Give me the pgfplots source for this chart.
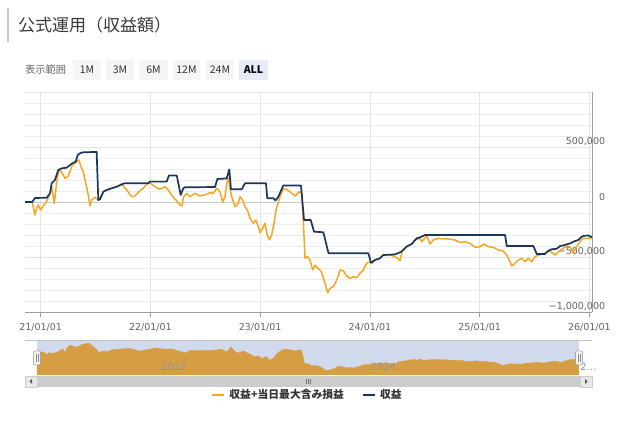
\documentclass[border=0pt]{standalone}
\usepackage{fontspec}
\setmainfont{Noto Sans CJK JP}
\newfontfamily\numfont{DejaVu Sans}
\usepackage{pgfplots}
\pgfplotsset{compat=1.18}
\usepackage{pgfplotstable}

\definecolor{orng}{RGB}{245,166,35}
\definecolor{navy}{RGB}{27,54,93}
\definecolor{navfill}{RGB}{214,158,66}
\definecolor{maskc}{RGB}{209,217,236}
\definecolor{allbtn}{RGB}{230,235,245}

\pgfplotstableread{
year val
2020.857 0
2020.923 0
2020.948 36000
2021.055 39000
2021.085 79000
2021.100 170000
2021.130 200000
2021.160 291000
2021.191 306000
2021.237 312000
2021.267 336000
2021.297 357000
2021.319 366000
2021.337 427000
2021.358 443000
2021.388 452000
2021.510 455000
2021.525 18000
2021.540 25000
2021.571 94000
2021.602 109000
2021.647 125000
2021.693 139000
2021.738 161000
2021.768 170000
2021.981 170000
2021.996 185000
2022.148 185000
2022.169 241000
2022.240 241000
2022.276 64000
2022.300 125000
2022.315 134000
2022.589 136000
2022.610 209000
2022.695 214000
2022.719 297000
2022.734 115000
2022.832 115000
2022.862 170000
2023.053 170000
2023.065 34000
2023.120 34000
2023.140 14000
2023.166 48000
2023.211 150000
2023.372 150000
2023.400 -164000
2023.461 -164000
2023.491 -270000
2023.576 -275000
2023.623 -466000
2023.986 -466000
2024.010 -552000
2024.047 -527000
2024.092 -512000
2024.122 -482000
2024.229 -477000
2024.290 -450000
2024.336 -405000
2024.381 -382000
2024.427 -330000
2024.457 -321000
2024.503 -300000
2025.232 -300000
2025.247 -400000
2025.490 -400000
2025.521 -473000
2025.596 -473000
2025.626 -443000
2025.657 -430000
2025.703 -425000
2025.733 -400000
2025.763 -395000
2025.794 -385000
2025.824 -377000
2025.854 -361000
2025.900 -345000
2025.931 -315000
2025.961 -306000
2025.991 -305000
2026.025 -321000
}\bluetab

\pgfplotstableread{
year val
2020.857 0
2020.923 0
2020.948 -118000
2020.964 -57000
2020.978 -27000
2021.000 -73000
2021.018 -43000
2021.039 -18000
2021.060 18000
2021.085 79000
2021.100 139000
2021.124 -12000
2021.146 185000
2021.160 261000
2021.176 297000
2021.197 261000
2021.221 215000
2021.246 230000
2021.267 275000
2021.288 336000
2021.313 352000
2021.328 366000
2021.349 382000
2021.367 321000
2021.388 275000
2021.404 200000
2021.428 94000
2021.449 -34000
2021.465 18000
2021.495 43000
2021.525 18000
2021.540 25000
2021.571 94000
2021.602 109000
2021.647 125000
2021.693 139000
2021.738 161000
2021.784 109000
2021.829 48000
2021.859 55000
2021.905 103000
2021.935 125000
2021.966 161000
2021.996 175000
2022.042 139000
2022.087 115000
2022.133 139000
2022.163 109000
2022.197 55000
2022.233 18000
2022.270 -27000
2022.288 -36000
2022.301 45000
2022.331 79000
2022.361 48000
2022.406 79000
2022.452 55000
2022.497 64000
2022.543 85000
2022.573 79000
2022.604 125000
2022.634 94000
2022.659 3000
2022.680 48000
2022.695 170000
2022.710 215000
2022.725 125000
2022.741 48000
2022.771 -43000
2022.801 -12000
2022.816 48000
2022.841 18000
2022.862 -43000
2022.883 -73000
2022.908 -148000
2022.938 -194000
2022.962 -164000
2022.983 -225000
2022.999 -279000
2023.023 -239000
2023.044 -194000
2023.065 -300000
2023.084 -345000
2023.105 -300000
2023.126 -194000
2023.145 -73000
2023.166 3000
2023.187 64000
2023.211 118000
2023.242 115000
2023.272 94000
2023.318 55000
2023.357 94000
2023.379 79000
2023.393 -164000
2023.409 -512000
2023.430 -497000
2023.454 -527000
2023.479 -618000
2023.500 -573000
2023.525 -603000
2023.546 -618000
2023.561 -643000
2023.591 -739000
2023.616 -825000
2023.637 -785000
2023.667 -770000
2023.698 -709000
2023.728 -618000
2023.758 -625000
2023.789 -673000
2023.819 -694000
2023.849 -679000
2023.880 -688000
2023.910 -648000
2023.940 -618000
2023.971 -557000
2024.001 -543000
2024.022 -557000
2024.047 -527000
2024.092 -512000
2024.122 -482000
2024.184 -477000
2024.223 -497000
2024.254 -512000
2024.275 -534000
2024.296 -436000
2024.336 -405000
2024.381 -382000
2024.411 -345000
2024.457 -330000
2024.473 -361000
2024.518 -309000
2024.548 -382000
2024.578 -345000
2024.624 -330000
2024.669 -336000
2024.712 -336000
2024.776 -345000
2024.822 -368000
2024.867 -361000
2024.913 -375000
2024.958 -412000
2025.004 -406000
2025.040 -382000
2025.080 -406000
2025.125 -412000
2025.171 -436000
2025.211 -443000
2025.247 -482000
2025.277 -543000
2025.293 -582000
2025.323 -557000
2025.353 -527000
2025.384 -512000
2025.414 -543000
2025.444 -512000
2025.475 -543000
2025.505 -497000
2025.535 -482000
2025.581 -473000
2025.612 -452000
2025.642 -445000
2025.687 -482000
2025.718 -452000
2025.749 -430000
2025.794 -400000
2025.824 -409000
2025.854 -466000
2025.885 -406000
2025.915 -361000
2025.945 -330000
2026.006 -330000
2026.025 -323000
}\orangetab

\newcommand{\tickfont}{\numfont\fontsize{9.5}{11}\selectfont}

\begin{document}
\begin{tikzpicture}[x=1pt,y=1pt]
\useasboundingbox (0pt,0pt) rectangle (628pt,422pt);

% title
\fill[black!22] (7pt,380pt) rectangle (9pt,414pt);
\node[anchor=west, inner sep=0, text=black!78, font=\fontsize{17}{20}\selectfont] at (18pt,397pt) {公式運用（収益額）};

% range selector
\node[anchor=west, inner sep=0, text=black!60, font=\fontsize{10.2}{12}\selectfont] at (25pt,352pt) {表示範囲};
\foreach \a/\b/\t in {73/101/1M, 106/134/3M, 139/168/6M, 173/200/12M, 206/234/24M}{
  \fill[black!4] (\a pt,342pt) rectangle (\b pt,362pt);
  \node[inner sep=0, text=black!80, font=\fontsize{10.5}{12}\selectfont] at ({(\a+\b)/2*1pt},352pt) {\t};
}
\fill[allbtn] (239pt,342pt) rectangle (268pt,362pt);
\node[inner sep=0, text=black, font=\fontsize{10.5}{12}\selectfont\bfseries] at (253.5pt,352pt) {ALL};

% main chart
\begin{axis}[
  at={(25pt,110pt)}, anchor=south west, scale only axis,
  width=567.3pt, height=220pt,
  xmin=2020.857, xmax=2026.027, ymin=-1000000, ymax=1000000,
  axis x line*=bottom, axis y line*=right,
  axis line style={draw=black!38, line width=0.8pt},
  xtick={2021,2022,2023,2024,2025,2026},
  xticklabels={21/01/01,22/01/01,23/01/01,24/01/01,25/01/01,26/01/01},
  ytick={-1000000,-500000,0,500000,1000000},
  yticklabels={{−1,000,000},{−500,000},0,{500,000},{}},
  extra y ticks={0}, extra y tick labels={},
  extra y tick style={grid=major, major grid style={draw=black!22, line width=0.8pt}},
  minor y tick num=4,
  ymajorgrids, yminorgrids, xmajorgrids,
  major grid style={draw=black!11, line width=0.6pt},
  minor grid style={draw=black!7, line width=0.6pt},
  tick align=outside, major tick length=5pt,
  x tick style={draw=black!38, line width=0.6pt},
  y tick style={draw=none}, minor y tick style={draw=none},
  xticklabel style={font=\tickfont, text=black!62, inner sep=0pt, yshift=-6.5pt},
  yticklabel style={font=\tickfont, text=black!62, anchor=east, inner sep=0pt, xshift=8pt, yshift=5pt},
  scaled y ticks=false,
  legend style={at={(0.498,-0.377)}, anchor=center, draw=none, fill=none,
    font=\fontsize{10.8}{12}\selectfont\bfseries, text=black!80, legend columns=2,
    /tikz/every odd column/.append style={column sep=2pt},
    /tikz/every even column/.append style={column sep=16pt}},
  legend image code/.code={\draw[#1, line width=2pt] (0pt,0pt) -- (12pt,0pt);},
]
\addplot[orng, line width=1.5pt, line join=round] table[x=year, y=val] {\orangetab};
\addlegendentry{収益+当日最大含み損益}
\addplot[navy, line width=1.7pt, line join=round] table[x=year, y=val] {\bluetab};
\addlegendentry{収益}
\end{axis}

% navigator
\fill[maskc] (37pt,47pt) rectangle (579pt,81pt);
\draw[black!25, line width=0.8pt] (25pt,81.5pt) -- (592pt,81.5pt);
% navigator grid (behind the area)
\begin{axis}[
  at={(37pt,47pt)}, anchor=south west, scale only axis,
  width=542pt, height=34pt,
  xmin=2020.857, xmax=2026.027, ymin=0, ymax=1480000,
  axis line style={draw=none},
  xtick={2022,2024}, xticklabels={}, ytick=\empty, tick style={draw=none},
  xmajorgrids, major grid style={draw=black!15, line width=0.5pt},
]
\end{axis}
% navigator area and labels
\begin{axis}[
  at={(37pt,47pt)}, anchor=south west, scale only axis,
  width=542pt, height=34pt,
  xmin=2020.857, xmax=2026.027, ymin=0, ymax=1480000,
  axis line style={draw=none},
  xtick={2022,2024,2026}, xticklabels={2022,2024,2…},
  ytick=\empty, tick style={draw=none},
  xticklabel style={anchor=south west, font=\numfont\fontsize{10}{12}\selectfont, text=black!42, inner sep=0pt, xshift=4pt, yshift=4pt},
  axis on top, clip=false,
]
% navigator y axis starts at -1,000,000: values shifted by +1,000,000 so the area closes at the bottom
\addplot[fill=navfill, draw=navfill, line width=0.4pt] table[x=year, y expr=\thisrow{val}+1000000] {\orangetab} \closedcycle;
\end{axis}

% handles
\foreach \hx in {37,579}{
  \filldraw[fill=black!5, draw=black!45, line width=0.5pt, rounded corners=1pt] (\hx pt-3.5pt,57pt) rectangle (\hx pt+3.5pt,71pt);
  \draw[black!45, line width=0.5pt] (\hx pt-1pt,60pt) -- (\hx pt-1pt,68pt) (\hx pt+1pt,60pt) -- (\hx pt+1pt,68pt);
}

% scrollbar
\fill[black!5] (25pt,35pt) rectangle (592pt,46pt);
\fill[black!20] (37pt,35pt) rectangle (580pt,46pt);
\filldraw[fill=black!9, draw=black!20, line width=0.5pt] (25pt,35pt) rectangle (37pt,46pt);
\filldraw[fill=black!9, draw=black!20, line width=0.5pt] (580pt,35pt) rectangle (592pt,46pt);
\fill[black!65] (29.5pt,40.5pt) -- (32pt,43pt) -- (32pt,38pt) -- cycle;
\fill[black!65] (587.5pt,40.5pt) -- (585pt,43pt) -- (585pt,38pt) -- cycle;
\draw[black!55, line width=0.5pt] (306.5pt,38pt) -- (306.5pt,43pt) (308.5pt,38pt) -- (308.5pt,43pt) (310.5pt,38pt) -- (310.5pt,43pt);
\end{tikzpicture}
\end{document}
